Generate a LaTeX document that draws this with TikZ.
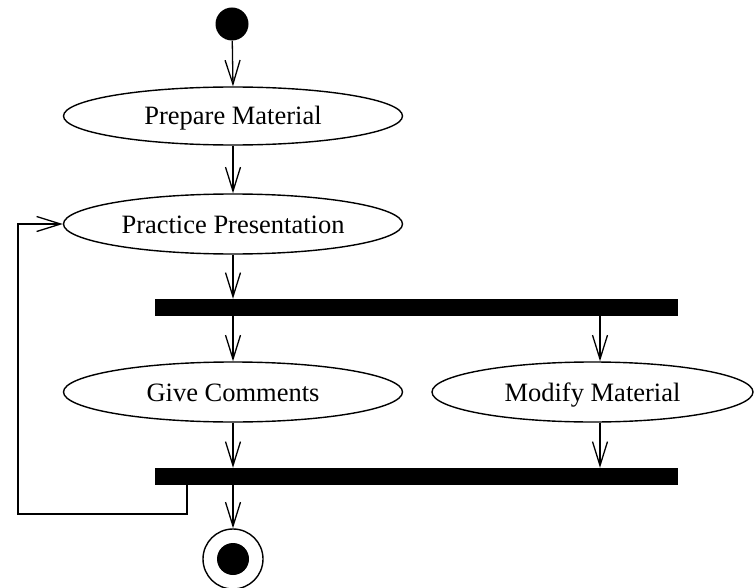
\documentclass[tikz,border=0pt]{standalone}
\usepackage{fontspec}
\setmainfont{Liberation Serif}
\usetikzlibrary{shapes.geometric,arrows.meta}
\begin{document}
\begin{tikzpicture}[x=1pt,y=-1pt,
  act/.style={draw,ellipse,line width=1.4pt,inner sep=0pt,minimum height=60pt,text height=20pt,text depth=2pt,font=\fontsize{26.5}{29}\selectfont},
  bar/.style={fill=black,draw=none,rectangle,minimum width=523pt,minimum height=17pt,inner sep=0pt},
  arr/.style={line width=1.3pt,-{Straight Barb[length=24pt,width=15pt,line width=1.3pt]}},
  ln/.style={line width=1.3pt}]
\useasboundingbox (0,0) rectangle (754,588);
\node[circle,fill=black,minimum size=33pt,inner sep=0pt] (start) at (232,24) {};
\node[act,minimum width=339pt,minimum height=58pt] (pm) at (233,116) {Prepare Material};
\node[act,minimum width=339pt] (pp) at (233,224) {Practice Presentation};
\node[bar] (fork) at (416.5,307.5) {};
\node[act,minimum width=339pt] (gc) at (233,392) {Give Comments};
\node[act,minimum width=321pt] (mm) at (592.5,392) {Modify Material};
\node[bar] (join) at (416.5,476.5) {};
\node[circle,draw,line width=1.4pt,minimum size=60pt,inner sep=0pt] (fin) at (233,559) {};
\node[circle,fill=black,minimum size=32pt,inner sep=0pt] (fininner) at (233,559) {};
\coordinate (mx) at (600,0);
\coordinate (lp) at (187,514);
\coordinate (lx) at (18,514);
\draw[arr] (start) -- (pm.north);
\draw[arr] (pm.south) -- (pp.north);
\draw[arr] (pp.south) -- (fork.north -| pp.south);
\draw[arr] (fork.south -| gc.north) -- (gc.north);
\draw[arr] (fork.south -| mx) -- (mx |- mm.north);
\draw[arr] (gc.south) -- (join.north -| gc.south);
\draw[arr] (mx |- mm.south) -- (join.north -| mx);
\draw[arr] (join.south -| fin.north) -- (fin.north);
\draw[arr] (join.south -| lp) -- (lp) -- (lx) |- (pp.west);
\end{tikzpicture}
\end{document}
